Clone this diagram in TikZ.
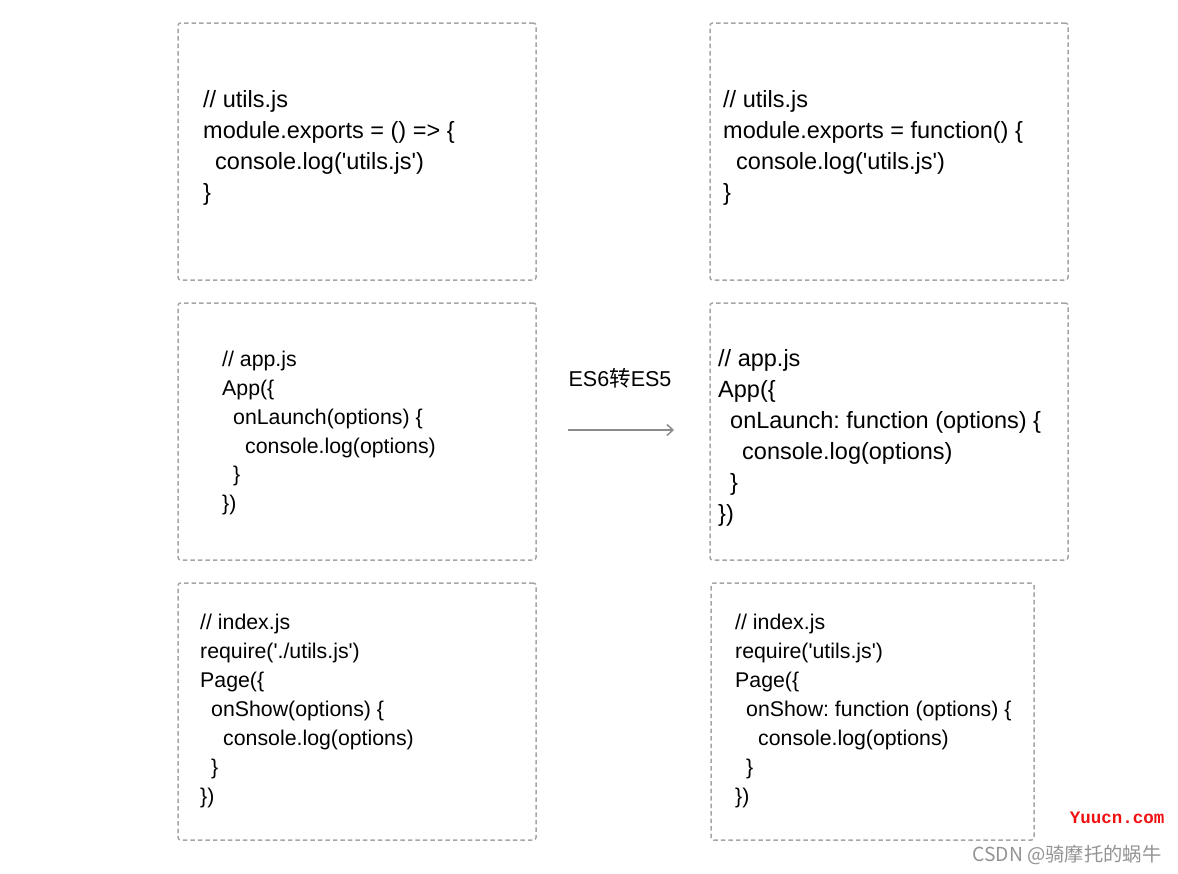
\documentclass[tikz,border=0pt]{standalone}
\usepackage{fontspec}
\newfontfamily\codefont{Liberation Sans}
\newfontfamily\cjk{Noto Sans CJK SC}
\newfontfamily\wmfont{Liberation Mono}
\usetikzlibrary{arrows.meta}
\frenchspacing
\definecolor{boxgray}{HTML}{A6A6A6}
\definecolor{arrowgray}{HTML}{8C8C8C}
\definecolor{wmred}{HTML}{F01010}
\tikzset{
  box/.style={draw=boxgray, line width=1.5pt, dash pattern=on 4.5pt off 3pt,
    rounded corners=2.5pt, inner sep=0pt, outer sep=0pt, anchor=north west},
  big/.style={font=\codefont\fontsize{23.5}{31}\selectfont, anchor=base west, inner sep=0pt},
  small/.style={font=\codefont\fontsize{21.3}{29}\selectfont, anchor=base west, inner sep=0pt},
  conv/.style={draw=arrowgray, line width=1.5pt, -{Straight Barb[length=6pt,width=11pt]}},
}
\begin{document}
\begin{tikzpicture}[x=1pt,y=-1pt]
\useasboundingbox (0,0) rectangle (1178,873);
% boxes
\node[box, minimum width=358pt, minimum height=257pt] (b1) at (178,23) {};
\node[box, minimum width=358pt, minimum height=257pt] (b2) at (178,303) {};
\node[box, minimum width=358pt, minimum height=257pt] (b3) at (178,583) {};
\node[box, minimum width=358pt, minimum height=257pt] (b4) at (710,23) {};
\node[box, minimum width=358pt, minimum height=257pt] (b5) at (710,303) {};
\node[box, minimum width=323pt, minimum height=257pt] (b6) at (711,583) {};
% top left
\node[big] (t1a) at (203,107) {// utils.js};
\node[big] (t1b) at (203,138) {module.exports = () => \{};
\node[big] (t1c) at (215,169) {console.log('utils.js')};
\node[big] (t1d) at (203,200) {\}};
% top right
\node[big] (t4a) at (723,107) {// utils.js};
\node[big] (t4b) at (723,138) {module.exports = function() \{};
\node[big] (t4c) at (736,169) {console.log('utils.js')};
\node[big] (t4d) at (723,200) {\}};
% middle left
\node[small] (t2a) at (222,366) {// app.js};
\node[small] (t2b) at (222,395) {App(\{};
\node[small] (t2c) at (233,424) {onLaunch(options) \{};
\node[small] (t2d) at (245,453) {console.log(options)};
\node[small] (t2e) at (233,481) {\}};
\node[small] (t2f) at (222,510) {\})};
% middle right
\node[big] (t5a) at (718,366) {// app.js};
\node[big] (t5b) at (718,397) {App(\{};
\node[big] (t5c) at (730,428) {onLaunch: function (options) \{};
\node[big] (t5d) at (742,459) {console.log(options)};
\node[big] (t5e) at (730,490) {\}};
\node[big] (t5f) at (718,521) {\})};
% bottom left
\node[small] (t3a) at (200,629) {// index.js};
\node[small] (t3b) at (200,658) {require('./utils.js')};
\node[small] (t3c) at (200,687) {Page(\{};
\node[small] (t3d) at (211,716) {onShow(options) \{};
\node[small] (t3e) at (223,745) {console.log(options)};
\node[small] (t3f) at (211,774) {\}};
\node[small] (t3g) at (200,803) {\})};
% bottom right
\node[small] (t6a) at (735,629) {// index.js};
\node[small] (t6b) at (735,658) {require('utils.js')};
\node[small] (t6c) at (735,687) {Page(\{};
\node[small] (t6d) at (746,716) {onShow: function (options) \{};
\node[small] (t6e) at (758,745) {console.log(options)};
\node[small] (t6f) at (746,774) {\}};
\node[small] (t6g) at (735,803) {\})};
% arrow
\node[font=\codefont\fontsize{21.5}{25}\selectfont, inner sep=0pt] (lbl) at (620,378) {ES6{\cjk 转}ES5};
\coordinate (a1) at (568,430);
\coordinate (a2) at (674,430);
\draw[conv] (a1) -- (a2);
% watermarks
\node[font=\wmfont\bfseries\fontsize{17.5}{20}\selectfont, text=wmred, inner sep=0pt] (wm1) at (1117,818) {Yuucn.com};
\node[font=\cjk\fontsize{19.3}{22}\selectfont, text=gray!85, inner sep=0pt] (wm2) at (1067,855) {CSDN @骑摩托的蜗牛};
\end{tikzpicture}
\end{document}
